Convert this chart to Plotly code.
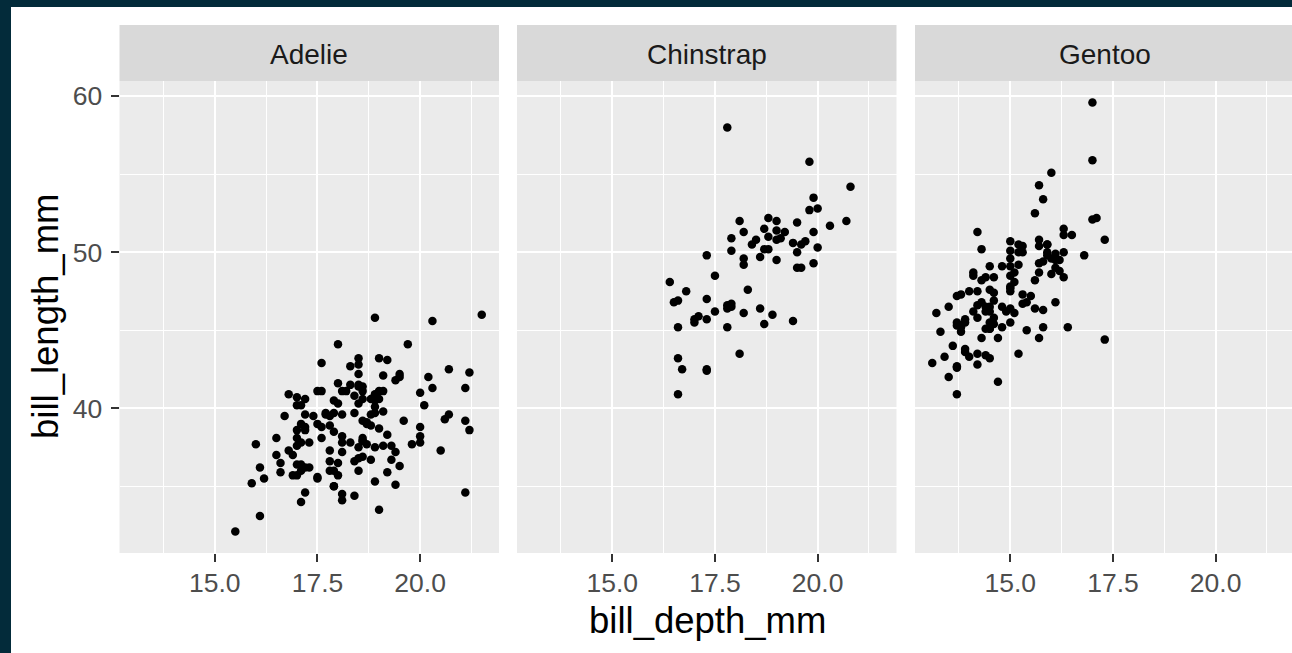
import plotly.graph_objects as go

# ---------------- data (Palmer penguins: bill depth / bill length, mm) ----------------
species = ["Adelie", "Chinstrap", "Gentoo"]

adelie_depth = [18.7, 17.4, 18.0, 19.3, 20.6, 17.8, 19.6, 18.1, 20.2, 17.1, 17.3, 17.6, 21.2, 21.1, 17.8,
                19.0, 20.7, 18.4, 21.5, 18.3, 18.7, 19.2, 18.1, 17.2, 18.9, 18.6, 17.9, 18.6, 18.9, 16.7,
                18.1, 17.8, 18.9, 17.0, 21.1, 20.0, 18.5, 19.3, 19.1, 18.0, 18.4, 18.5, 19.7, 16.9, 18.8,
                19.0, 18.9, 17.9, 21.2, 17.7, 18.9, 17.9, 19.5, 18.1, 18.6, 17.5, 18.8, 16.6, 19.1, 16.9,
                21.1, 17.0, 18.2, 17.1, 18.0, 16.2, 19.1, 16.6, 19.4, 19.0, 18.4, 17.2, 18.9, 17.5, 18.5,
                16.8, 19.4, 16.1, 19.1, 17.2, 17.6, 18.8, 19.4, 17.8, 20.3, 19.5, 18.6, 19.2, 18.8, 18.0,
                18.1, 17.1, 18.1, 17.3, 18.9, 18.6, 18.5, 16.1, 18.5, 17.9, 20.0, 16.0, 20.0, 18.6, 18.9,
                17.2, 20.0, 17.0, 19.0, 16.5, 20.3, 17.7, 19.5, 20.7, 18.3, 17.0, 20.5, 17.0, 18.6, 17.2,
                19.8, 17.0, 18.5, 15.9, 19.0, 17.6, 18.3, 17.1, 18.0, 17.9, 19.2, 18.5, 18.5, 17.6, 17.5,
                17.5, 20.1, 16.5, 17.9, 17.1, 17.2, 15.5, 17.0, 16.8, 18.7, 18.6, 18.4, 17.8, 18.1, 17.1,
                18.5]
adelie_length = [39.1, 39.5, 40.3, 36.7, 39.3, 38.9, 39.2, 34.1, 42.0, 37.8, 37.8, 41.1, 38.6, 34.6, 36.6,
                 38.7, 42.5, 34.4, 46.0, 37.8, 37.7, 35.9, 38.2, 38.8, 35.3, 40.6, 40.5, 37.9, 40.5, 39.5,
                 37.2, 39.5, 40.9, 36.4, 39.2, 38.8, 42.2, 37.6, 39.8, 36.5, 40.8, 36.0, 44.1, 37.0, 39.6,
                 41.1, 37.5, 36.0, 42.3, 39.6, 40.1, 35.0, 42.0, 34.5, 41.4, 39.0, 40.6, 36.5, 37.6, 35.7,
                 41.3, 37.6, 41.1, 36.4, 41.6, 35.5, 41.1, 35.9, 41.8, 33.5, 39.7, 39.6, 45.8, 35.5, 42.8,
                 40.9, 37.2, 36.2, 42.1, 34.6, 42.9, 36.7, 35.1, 37.3, 41.3, 36.3, 36.9, 38.3, 38.9, 35.7,
                 41.1, 34.0, 39.6, 36.2, 40.8, 38.1, 40.3, 33.1, 43.2, 35.0, 41.0, 37.7, 37.8, 37.9, 39.7,
                 38.6, 38.2, 38.1, 43.2, 38.1, 45.6, 39.7, 42.2, 39.6, 42.7, 38.6, 37.3, 35.7, 41.1, 36.2,
                 37.7, 40.2, 41.4, 35.2, 40.6, 38.8, 41.5, 39.0, 44.1, 38.5, 43.1, 36.8, 37.5, 38.1, 41.1,
                 35.6, 40.2, 37.0, 39.7, 40.2, 40.6, 32.1, 40.7, 37.3, 39.0, 39.2, 36.6, 36.0, 37.8, 36.0,
                 41.5]

chinstrap_depth = [17.9, 19.5, 19.2, 18.7, 19.8, 17.8, 18.2, 18.2, 18.9, 19.9, 17.8, 20.3, 17.3, 18.1, 17.1,
                   19.6, 20.0, 17.8, 18.6, 18.2, 17.3, 17.5, 16.6, 19.4, 17.9, 19.0, 18.4, 19.0, 17.8, 20.0,
                   16.6, 20.8, 16.7, 18.8, 18.6, 16.8, 18.3, 20.7, 16.6, 19.9, 19.5, 17.5, 19.1, 17.0, 17.9,
                   18.5, 17.9, 19.6, 18.7, 17.3, 16.4, 19.0, 17.3, 19.7, 17.3, 18.8, 16.6, 19.9, 18.8, 19.4,
                   19.5, 16.5, 17.0, 19.8, 18.1, 18.2, 19.0, 18.7]
chinstrap_length = [46.5, 50.0, 51.3, 45.4, 52.7, 45.2, 46.1, 51.3, 46.0, 51.3, 46.6, 51.7, 47.0, 52.0, 45.9,
                    50.5, 50.3, 58.0, 46.4, 49.2, 42.4, 48.5, 43.2, 50.6, 46.7, 52.0, 50.5, 49.5, 46.4, 52.8,
                    40.9, 54.2, 42.5, 51.0, 49.7, 47.5, 47.6, 52.0, 46.9, 53.5, 49.0, 46.2, 50.9, 45.5, 50.9,
                    50.8, 50.1, 49.0, 51.5, 49.8, 48.1, 51.4, 45.7, 50.7, 42.5, 52.2, 45.2, 49.3, 50.2, 45.6,
                    51.9, 46.8, 45.7, 55.8, 43.5, 49.6, 50.8, 50.2]

gentoo_depth = [13.2, 16.3, 14.1, 15.2, 14.5, 13.5, 14.6, 15.3, 13.4, 15.4, 13.7, 16.1, 13.7, 14.6, 14.6,
                15.7, 13.5, 15.2, 14.5, 15.1, 14.3, 14.5, 14.5, 15.8, 13.1, 15.1, 14.3, 15.0, 14.3, 15.3,
                15.3, 14.2, 14.5, 17.0, 14.8, 16.3, 13.7, 17.3, 13.6, 15.7, 13.7, 16.0, 13.7, 15.0, 15.9,
                13.9, 13.9, 15.9, 13.3, 15.8, 14.2, 14.1, 14.4, 15.0, 14.4, 15.4, 13.9, 15.0, 14.5, 15.3,
                13.8, 14.9, 13.9, 15.7, 14.2, 16.8, 14.4, 16.2, 14.2, 15.0, 15.0, 15.6, 15.6, 14.8, 15.0,
                16.0, 14.2, 16.3, 13.8, 16.4, 14.5, 15.6, 14.6, 15.9, 13.8, 17.3, 14.4, 14.2, 14.0, 17.0,
                15.0, 17.1, 14.5, 16.1, 14.7, 15.7, 15.8, 14.6, 14.4, 16.5, 15.0, 17.0, 15.5, 15.0, 13.8,
                16.1, 14.7, 15.8, 14.0, 15.1, 15.2, 15.9, 15.2, 16.3, 14.1, 16.0, 15.7, 16.2, 13.7, 14.3,
                15.7, 14.8, 16.1]
gentoo_length = [46.1, 50.0, 48.7, 50.0, 47.6, 46.5, 45.4, 46.7, 43.3, 46.8, 40.9, 49.0, 45.5, 48.4, 45.8,
                 49.3, 42.0, 49.2, 46.2, 48.7, 50.2, 45.1, 46.5, 46.3, 42.9, 46.1, 44.5, 47.8, 48.2, 50.0,
                 47.3, 42.8, 45.1, 59.6, 49.1, 48.4, 42.6, 44.4, 44.0, 48.7, 42.7, 49.6, 45.3, 49.6, 50.5,
                 43.6, 45.5, 50.5, 44.9, 45.2, 46.6, 48.5, 45.1, 50.1, 46.5, 45.0, 43.8, 45.5, 43.2, 50.4,
                 45.3, 46.2, 45.7, 54.3, 45.8, 49.8, 46.2, 49.5, 43.5, 50.7, 47.7, 46.4, 48.2, 46.5, 46.4,
                 48.6, 47.5, 51.1, 45.2, 45.2, 49.1, 52.5, 47.4, 50.0, 44.9, 50.8, 43.4, 51.3, 47.5, 52.1,
                 47.5, 52.2, 45.5, 49.5, 44.5, 50.8, 49.4, 46.9, 48.4, 51.1, 48.5, 55.9, 47.2, 49.1, 47.3,
                 46.8, 41.7, 53.4, 43.3, 48.1, 50.5, 49.8, 43.5, 51.5, 46.2, 55.1, 44.5, 48.8, 47.2, 46.8,
                 50.4, 45.2, 49.9]

x_tickvals = [15.0, 17.5, 20.0]
x_ticktext = ["15.0", "17.5", "20.0"]
y_tickvals = [40, 50, 60]
y_ticktext = ["40", "50", "60"]

x_title = "bill_depth_mm"
y_title = "bill_length_mm"

# ---------------- layout geometry (pixels) ----------------
W, H = 1292, 653
L, T, B = 119, 81, 100
PW = W - L           # plot area width
PH = H - T - B       # plot area height
panels_px = [(0.5, 380.0), (398.0, 777.5), (796.0, PW)]
x_ranges = [[12.68, 21.92], [12.68, 21.92], [12.68, 12.68 + (PW - 796.0) / (379.5 / 9.24)]]
y_range = [30.725, 60.975]

FONT = "Liberation Sans, Arial, sans-serif"
DARK = "#032b3a"

def px_x(p):
    return (p - L) / PW

def px_y(p):
    return (H - B - p) / PH

series = [(adelie_depth, adelie_length), (chinstrap_depth, chinstrap_length), (gentoo_depth, gentoo_length)]

fig = go.Figure()
for i, (xs, ys) in enumerate(series):
    sfx = "" if i == 0 else str(i + 1)
    fig.add_trace(go.Scatter(
        x=xs, y=ys, mode="markers", name=species[i],
        xaxis="x" + sfx, yaxis="y" + sfx,
        marker=dict(color="black", size=8.5, line=dict(width=0)),
        showlegend=False, hoverinfo="x+y",
    ))

layout = dict(
    width=W, height=H,
    margin=dict(l=L, r=0, t=T, b=B, pad=0),
    paper_bgcolor="white",
    plot_bgcolor="#ebebeb",
    font=dict(family=FONT),
    showlegend=False,
)

shapes = []
annotations = []
for i in range(3):
    sfx = "" if i == 0 else str(i + 1)
    d0, d1 = panels_px[i]
    layout["xaxis" + sfx] = dict(
        domain=[d0 / PW, d1 / PW], range=x_ranges[i], anchor="y" + sfx,
        tickmode="array", tickvals=x_tickvals, ticktext=x_ticktext,
        ticks="outside", ticklen=8, tickwidth=2, tickcolor="#333333",
        tickfont=dict(size=26.5, color="#4d4d4d", family=FONT),
        ticklabelstandoff=-2,
        showgrid=True, gridcolor="white", gridwidth=2.3,
        minor=dict(tickmode="array", tickvals=[13.75, 16.25, 18.75, 21.25],
                   showgrid=True, gridcolor="white", gridwidth=1.1, ticks=""),
        zeroline=False, showline=False, fixedrange=True,
    )
    layout["yaxis" + sfx] = dict(
        domain=[0, 1], range=y_range, anchor="x" + sfx,
        tickmode="array", tickvals=y_tickvals, ticktext=y_ticktext,
        ticks="outside" if i == 0 else "", ticklen=8, tickwidth=2, tickcolor="#333333",
        showticklabels=(i == 0),
        tickfont=dict(size=26.5, color="#4d4d4d", family=FONT),
        ticklabelstandoff=3,
        showgrid=True, gridcolor="white", gridwidth=2.3,
        minor=dict(tickmode="array", tickvals=[35, 45, 55],
                   showgrid=True, gridcolor="white", gridwidth=1.1, ticks=""),
        zeroline=False, showline=False, fixedrange=True,
    )
    # facet strip
    shapes.append(dict(type="rect", xref="x" + sfx + " domain", yref="paper",
                       x0=0, x1=1, y0=1, y1=px_y(25), fillcolor="#d9d9d9",
                       line=dict(width=0), layer="above"))
    cx = 0.5 if i < 2 else (1105 - (L + d0)) / (d1 - d0)
    annotations.append(dict(text=species[i], xref="x" + sfx + " domain", yref="paper",
                            x=cx, y=px_y(54), xanchor="center", yanchor="middle",
                            showarrow=False, font=dict(size=28, color="#1a1a1a", family=FONT)))

# dark frame at left and top edges
shapes.append(dict(type="rect", xref="paper", yref="paper", x0=px_x(-5), x1=px_x(11),
                   y0=px_y(H + 10), y1=px_y(-10), fillcolor=DARK, line=dict(width=0), layer="above"))
shapes.append(dict(type="rect", xref="paper", yref="paper", x0=px_x(-5), x1=px_x(W + 10),
                   y0=px_y(7), y1=px_y(-10), fillcolor=DARK, line=dict(width=0), layer="above"))

annotations.append(dict(text=x_title, xref="paper", yref="paper", x=px_x(707.5), y=px_y(620),
                        xanchor="center", yanchor="middle", showarrow=False,
                        font=dict(size=36.5, color="black", family=FONT)))
annotations.append(dict(text=y_title, xref="paper", yref="paper", x=px_x(45), y=px_y(317),
                        xanchor="center", yanchor="middle", textangle=-90, showarrow=False,
                        font=dict(size=36.5, color="black", family=FONT)))

layout["shapes"] = shapes
layout["annotations"] = annotations
fig.update_layout(**layout)

fig.write_html("out.html")
